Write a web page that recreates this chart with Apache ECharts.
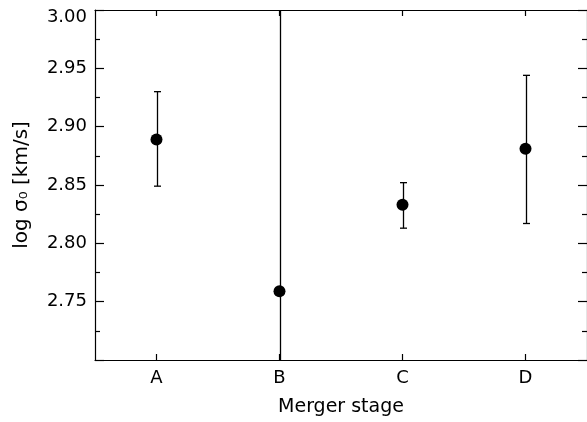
<!DOCTYPE html>
<html>
<head>
<meta charset="utf-8">
<script src="https://cdn.jsdelivr.net/npm/echarts@6/dist/echarts.min.js"></script>
<style>html,body{margin:0;padding:0;background:#fff}#c{width:587px;height:422px}</style>
</head>
<body>
<div id="c"></div>
<script>
const categories = ['A', 'B', 'C', 'D'];
const values = [2.889, 2.759, 2.833, 2.881];
const errLow = [2.849, 2.46, 2.813, 2.817];
const errHigh = [2.930, 3.06, 2.852, 2.944];
const yTicks = [2.75, 2.80, 2.85, 2.90, 2.95, 3.00];

const FONT = 'DejaVu Sans';
const chart = echarts.init(document.getElementById('c'), null, {renderer: 'canvas'});

const errData = categories.map((c, i) => [i, values[i], errLow[i], errHigh[i]]);
const ptData = categories.map((c, i) => [i, values[i]]);

function renderErr(params, api) {
  const i = api.value(0);
  const lo = api.value(2), hi = api.value(3);
  const cs = params.coordSys;
  const pLo = api.coord([i, lo]);
  const pHi = api.coord([i, hi]);
  const top = cs.y, bot = cs.y + cs.height;
  const x = Math.round(pLo[0]) + 0.5;
  const yHi = Math.max(pHi[1], top);
  const yLo = Math.min(pLo[1], bot);
  const st = {stroke: '#000', lineWidth: 1.3};
  const ch = [{type: 'line', shape: {x1: x, y1: yHi, x2: x, y2: yLo}, style: st}];
  const cw = 3.5;
  if (pHi[1] >= top) ch.push({type: 'line', shape: {x1: x - cw, y1: pHi[1], x2: x + cw, y2: pHi[1]}, style: st});
  if (pLo[1] <= bot) ch.push({type: 'line', shape: {x1: x - cw, y1: pLo[1], x2: x + cw, y2: pLo[1]}, style: st});
  return {type: 'group', children: ch};
}

const axisLineStyle = {color: '#000', width: 1.2};

chart.setOption({
  animation: false,
  backgroundColor: '#fff',
  grid: {left: 95, top: 10, width: 493, height: 350, containLabel: false},
  xAxis: [{
    type: 'category',
    data: categories,
    boundaryGap: true,
    position: 'bottom',
    axisLine: {show: true, lineStyle: axisLineStyle},
    axisTick: {show: true, inside: true, alignWithLabel: true, length: 6, lineStyle: {color: '#000', width: 1.2}},
    axisLabel: {show: true, color: '#000', fontFamily: FONT, fontSize: 18, margin: 9},
    splitLine: {show: false},
    name: 'Merger stage',
    nameLocation: 'middle',
    nameGap: 38,
    nameTextStyle: {color: '#000', fontFamily: FONT, fontSize: 19}
  }, {
    type: 'category',
    data: categories,
    boundaryGap: true,
    position: 'top',
    axisLine: {show: true, lineStyle: axisLineStyle},
    axisTick: {show: true, inside: true, alignWithLabel: true, length: 6, lineStyle: {color: '#000', width: 1.2}},
    axisLabel: {show: false},
    splitLine: {show: false}
  }],
  yAxis: [{
    type: 'value',
    min: 2.70, max: 3.00, interval: 0.05,
    position: 'left',
    axisLine: {show: true, lineStyle: axisLineStyle},
    axisTick: {show: true, inside: true, length: 9, lineStyle: {color: '#000', width: 1.2}},
    minorTick: {show: true, splitNumber: 2, length: 5, lineStyle: {color: '#000', width: 1.2}},
    axisLabel: {
      show: true, color: '#000', fontFamily: FONT, fontSize: 18, margin: 8,
      formatter: v => {
        const t = yTicks.find(k => Math.abs(k - v) < 1e-6);
        if (t === undefined) return '';
        if (t === yTicks[yTicks.length - 1]) return '{top|' + t.toFixed(2) + '}';
        return t.toFixed(2);
      },
      rich: {top: {fontFamily: FONT, fontSize: 18, color: '#000', padding: [15, 0, 0, 0]}}
    },
    splitLine: {show: false},
    minorSplitLine: {show: false},
    name: 'log σ₀ [km/s]',
    nameLocation: 'middle',
    nameGap: 63,
    nameRotate: 90,
    nameTextStyle: {color: '#000', fontFamily: FONT, fontSize: 20}
  }, {
    type: 'value',
    min: 2.70, max: 3.00, interval: 0.05,
    position: 'right',
    axisLine: {show: true, lineStyle: axisLineStyle},
    axisTick: {show: true, inside: true, length: 9, lineStyle: {color: '#000', width: 1.2}},
    minorTick: {show: true, splitNumber: 2, length: 5, lineStyle: {color: '#000', width: 1.2}},
    axisLabel: {show: false},
    splitLine: {show: false}
  }],
  series: [{
    type: 'custom',
    xAxisIndex: 0, yAxisIndex: 0,
    renderItem: renderErr,
    data: errData,
    encode: {x: 0, y: [1, 2, 3]},
    clip: true,
    z: 2
  }, {
    type: 'scatter',
    xAxisIndex: 0, yAxisIndex: 0,
    data: ptData,
    symbol: 'circle',
    symbolSize: 12,
    itemStyle: {color: '#000', opacity: 1},
    z: 3
  }]
});
</script>
</body>
</html>
